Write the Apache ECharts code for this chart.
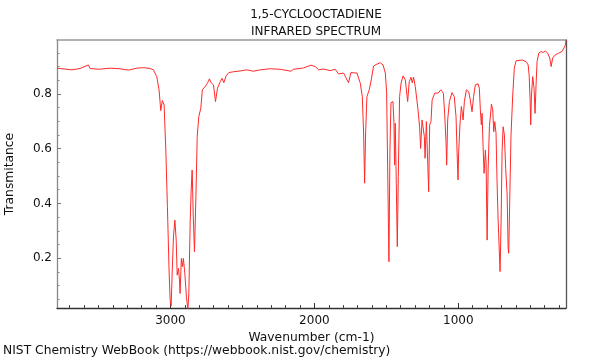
<!DOCTYPE html>
<html>
<head>
<meta charset="utf-8">
<script src="https://cdn.jsdelivr.net/npm/echarts@6/dist/echarts.min.js"></script>
<style>html,body{margin:0;padding:0;background:#fff}#c{width:600px;height:360px}</style>
</head>
<body>
<div id="c"></div>
<script>
var titleLines = ["1,5-CYCLOOCTADIENE", "INFRARED SPECTRUM"];
var xName = "Wavenumber (cm-1)";
var yName = "Transmitance";
var footer = "NIST Chemistry WebBook (https://webbook.nist.gov/chemistry)";
var xRange = [252, 3788];
var yRange = [0.018, 0.997];
var xMajorTicks = [1000, 2000, 3000];
var xMinorTicks = [300,400,500,600,700,800,900,1100,1200,1300,1400,1500,1600,1700,1800,1900,2100,2200,2300,2400,2500,2600,2700,2800,2900,3100,3200,3300,3400,3500,3600,3700];
var yMajorTicks = [0.2, 0.4, 0.6, 0.8];
var yMinorTicks = [0.05,0.1,0.15,0.25,0.3,0.35,0.45,0.5,0.55,0.65,0.7,0.75,0.85,0.9,0.95];

var wavenumber = [3788,3685,3628,3570,3558,3501,3419,3350,3292,3234,3188,3141,3118,3095,3079,3067,3056,3044,3032,3021,3009,3002,2995,2988,2979,2969,2960,2953,2944,2937,2933,2924,2917,2910,2900,2889,2879,2872,2863,2856,2849,2842,2833,2823,2814,2803,2789,2778,2759,2743,2729,2717,2701,2687,2673,2654,2641,2629,2613,2594,2562,2515,2469,2423,2376,2307,2237,2163,2145,2075,2024,1994,1971,1936,1890,1855,1832,1797,1763,1746,1704,1681,1667,1658,1651,1644,1635,1619,1605,1589,1565,1542,1523,1507,1498,1491,1482,1475,1468,1454,1447,1443,1438,1431,1424,1417,1408,1398,1384,1368,1352,1341,1329,1320,1311,1299,1280,1269,1262,1252,1243,1236,1231,1222,1213,1206,1199,1190,1182,1164,1140,1122,1104,1095,1085,1081,1074,1062,1044,1028,1016,1007,1002,998,988,979,972,967,958,944,928,917,905,894,882,863,854,847,840,835,828,821,812,807,800,793,784,770,761,754,747,738,731,724,720,715,710,703,696,689,680,671,661,654,650,643,634,622,611,599,588,557,529,515,508,501,497,492,483,474,467,460,453,441,425,411,395,379,365,355,345,326,303,279,266,256,252];
var transmittance = [0.894,0.888,0.893,0.906,0.893,0.890,0.894,0.892,0.887,0.894,0.896,0.893,0.888,0.863,0.815,0.739,0.776,0.760,0.595,0.388,0.146,0.047,0.025,0.146,0.278,0.339,0.266,0.138,0.163,0.120,0.071,0.199,0.169,0.199,0.144,0.059,0.012,0.071,0.328,0.449,0.522,0.364,0.223,0.425,0.644,0.717,0.748,0.815,0.827,0.839,0.855,0.841,0.833,0.772,0.821,0.845,0.857,0.841,0.866,0.878,0.881,0.884,0.888,0.883,0.888,0.892,0.890,0.883,0.890,0.895,0.905,0.900,0.888,0.891,0.885,0.890,0.873,0.876,0.841,0.878,0.876,0.839,0.790,0.657,0.474,0.657,0.790,0.815,0.851,0.902,0.909,0.914,0.906,0.876,0.803,0.534,0.187,0.595,0.768,0.772,0.693,0.540,0.693,0.474,0.242,0.498,0.790,0.839,0.866,0.851,0.772,0.845,0.861,0.841,0.861,0.827,0.742,0.680,0.601,0.705,0.708,0.644,0.565,0.699,0.695,0.443,0.687,0.699,0.778,0.803,0.803,0.815,0.803,0.729,0.620,0.540,0.705,0.772,0.805,0.790,0.717,0.559,0.486,0.583,0.693,0.754,0.729,0.705,0.772,0.815,0.808,0.778,0.735,0.790,0.833,0.837,0.821,0.742,0.687,0.729,0.607,0.510,0.595,0.547,0.266,0.522,0.680,0.763,0.741,0.662,0.699,0.656,0.479,0.346,0.291,0.285,0.151,0.333,0.589,0.680,0.650,0.528,0.431,0.236,0.218,0.406,0.650,0.796,0.894,0.921,0.928,0.924,0.918,0.906,0.869,0.772,0.687,0.796,0.863,0.821,0.729,0.833,0.918,0.949,0.955,0.951,0.957,0.949,0.931,0.900,0.931,0.943,0.949,0.955,0.962,0.979,0.997];

var FONT = 'DejaVu Sans';
var points = wavenumber.map(function (w, i) { return [w, transmittance[i]]; });

var chart = echarts.init(document.getElementById('c'), null, {renderer: 'canvas'});
var hidden = {show: false};
chart.setOption({
  animation: false,
  backgroundColor: '#ffffff',
  title: {
    text: titleLines.join('\n'),
    left: 311, top: 1, textAlign: 'center',
    textStyle: {fontFamily: FONT, fontSize: 12, fontWeight: 'normal', color: '#111', lineHeight: 17}
  },
  graphic: [{
    type: 'text', left: 3, top: 345,
    style: {text: footer, font: '12.3px "DejaVu Sans"', fill: '#111'}
  }],
  grid: {left: 57, right: 34, top: 40, bottom: 52, containLabel: false, outerBoundsMode: 'none'},
  xAxis: [{
    type: 'value', min: xRange[0], max: xRange[1], inverse: true, position: 'bottom',
    name: xName, nameLocation: 'middle', nameGap: 18,
    nameTextStyle: {fontFamily: FONT, fontSize: 12.3, color: '#111'},
    axisLine: {show: true, lineStyle: {color: '#333', width: 1.3}},
    axisTick: {show: true, inside: true, length: 5, customValues: xMajorTicks, lineStyle: {color: '#333'}},
    axisLabel: {customValues: xMajorTicks, margin: 7, fontFamily: FONT, fontSize: 12, color: '#111',
      formatter: function (v) { return String(v); }},
    splitLine: hidden
  }, {
    type: 'value', min: xRange[0], max: xRange[1], inverse: true, position: 'bottom',
    axisLine: hidden,
    axisTick: {show: true, inside: true, length: 3, customValues: xMinorTicks, lineStyle: {color: '#444'}},
    axisLabel: hidden, splitLine: hidden
  }, {
    type: 'value', min: xRange[0], max: xRange[1], inverse: true, position: 'top',
    axisLine: {show: true, lineStyle: {color: '#999', width: 1.5}},
    axisTick: hidden, axisLabel: hidden, splitLine: hidden
  }],
  yAxis: [{
    type: 'value', min: yRange[0], max: yRange[1], position: 'left',
    name: yName, nameLocation: 'middle', nameGap: 41,
    nameTextStyle: {fontFamily: FONT, fontSize: 12.3, color: '#111'},
    axisLine: {show: true, lineStyle: {color: '#888', width: 1.3}},
    axisTick: {show: true, inside: true, length: 4, customValues: yMajorTicks, lineStyle: {color: '#777'}},
    axisLabel: {customValues: yMajorTicks, margin: 5, fontFamily: FONT, fontSize: 12, color: '#111',
      formatter: function (v) { return v.toFixed(1); }},
    splitLine: hidden
  }, {
    type: 'value', min: yRange[0], max: yRange[1], position: 'left',
    axisLine: hidden,
    axisTick: {show: true, inside: true, length: 2.5, customValues: yMinorTicks, lineStyle: {color: '#888'}},
    axisLabel: hidden, splitLine: hidden
  }, {
    type: 'value', min: yRange[0], max: yRange[1], position: 'right',
    axisLine: {show: true, lineStyle: {color: '#555', width: 1.3}},
    axisTick: hidden, axisLabel: hidden, splitLine: hidden
  }],
  series: [{
    type: 'line', xAxisIndex: 0, yAxisIndex: 0, data: points,
    symbol: 'none', smooth: false, clip: true,
    lineStyle: {color: '#ff2a2a', width: 1}
  }]
});
</script>
</body>
</html>
